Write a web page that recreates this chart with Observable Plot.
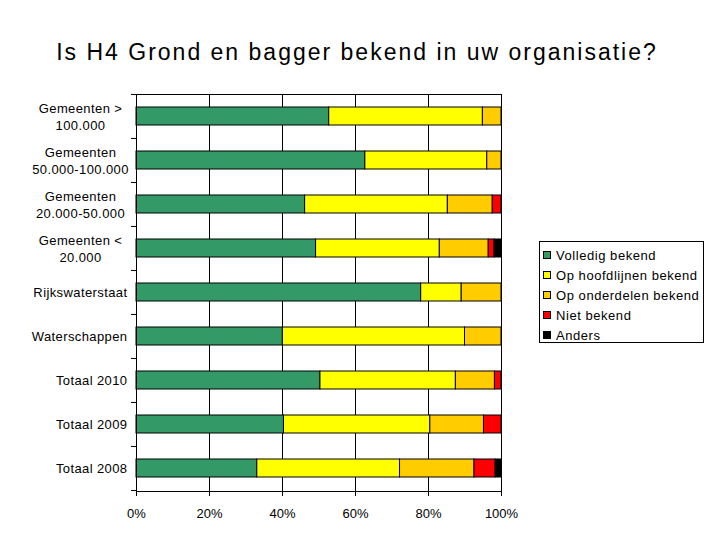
<!DOCTYPE html>
<html>
<head>
<meta charset="utf-8">
<script src="https://cdn.jsdelivr.net/npm/d3@7"></script>
<script src="https://cdn.jsdelivr.net/npm/@observablehq/plot@0.6"></script>
<style>
  body { margin: 0; background: white; }
  #chart { position: relative; width: 720px; height: 540px; font-family: 'Liberation Sans', Arial, sans-serif; color: black; }
  #title { height: 80px; box-sizing: border-box; padding-top: 41px; padding-right: 6px; text-align: center; font-size: 23px; line-height: 23px; letter-spacing: 2px; }
  #legend { position: absolute; left: 539px; top: 241px; width: 165px; height: 102px; box-sizing: border-box; border: 1px solid black; padding-top: 3px; background: white; }
  .item { height: 20px; display: flex; align-items: center; font-size: 13px; letter-spacing: 0.55px; white-space: nowrap; }
  .sw { width: 8px; height: 8px; box-sizing: border-box; border: 1px solid black; margin-left: 3px; margin-right: 5px; flex: none; }
  g[aria-label="y-axis tick label"] text { letter-spacing: 0.4px; }
</style>
</head>
<body>
<div id="chart">
  <div id="title">Is H4 Grond en bagger bekend in uw organisatie?</div>
  <div id="legend"></div>
</div>
<script>
const categories = ["Gemeenten >\n100.000", "Gemeenten\n50.000-100.000", "Gemeenten\n20.000-50.000", "Gemeenten <\n20.000", "Rijkswaterstaat", "Waterschappen", "Totaal 2010", "Totaal 2009", "Totaal 2008"];
const seriesNames = ["Volledig bekend", "Op hoofdlijnen bekend", "Op onderdelen bekend", "Niet bekend", "Anders"];
const seriesColors = ["#339966", "#FFFF00", "#FFCC00", "#FF0000", "#000000"];
const volledig    = [52.8, 62.7, 46.2, 49.2, 78.0, 40.1, 50.4, 40.4, 33.1];
const hoofdlijnen = [42.1, 33.4, 39.1, 33.9, 11.1, 49.9, 37.1, 40.1, 39.1];
const onderdelen  = [5.1, 3.9, 12.3, 13.4, 10.9, 10.0, 10.7, 14.7, 20.4];
const niet        = [0, 0, 2.4, 1.6, 0, 0, 1.8, 4.8, 5.8];
const anders      = [0, 0, 0, 1.9, 0, 0, 0, 0, 1.6];
const xTicks = [0, 20, 40, 60, 80, 100];
const gridTicks = [20, 40, 60, 80];

const valueArrays = [volledig, hoofdlijnen, onderdelen, niet, anders];
const data = [];
categories.forEach((c, i) => {
  seriesNames.forEach((s, j) => {
    const v = valueArrays[j][i];
    if (v > 0) data.push({category: c, series: s, value: v});
  });
});

const H = 460, MT = 14, MB = 49;
const step = (H - MT - MB) / categories.length;
const twoLine = categories.filter(c => c.includes("\n"));
const oneLine = categories.filter(c => !c.includes("\n"));

const plot = Plot.plot({
  width: 720,
  height: H,
  marginLeft: 136,
  marginRight: 219,
  marginTop: MT,
  marginBottom: MB,
  style: {fontFamily: "'Liberation Sans', Arial, sans-serif", fontSize: "13px", color: "black", background: "white"},
  x: {domain: [0, 100], label: null},
  y: {domain: categories, paddingInner: 0.59, paddingOuter: 0.295, label: null},
  color: {domain: seriesNames, range: seriesColors},
  marks: [
    Plot.ruleX(gridTicks, {stroke: "black", strokeWidth: 1}),
    Plot.barX(data, Plot.stackX({
      y: "category",
      x: "value",
      fill: "series",
      order: seriesNames,
      stroke: "black",
      strokeWidth: 1
    })),
    Plot.frame({stroke: "black", strokeWidth: 1}),
    Plot.axisX({ticks: xTicks, tickFormat: d => d + "%", tickSize: 5, tickPadding: 12, stroke: "black", fill: "black", label: null}),
    Plot.axisY({tickSize: 5, tickFormat: () => "", dy: -step / 2, stroke: "black", label: null}),
    Plot.axisY({ticks: [categories[categories.length - 1]], tickSize: 5, tickFormat: () => "", dy: step / 2, stroke: "black", label: null}),
    Plot.axisY({ticks: twoLine, tickSize: 0, tickPadding: 56, textAnchor: "middle", lineHeight: 1.3, fill: "black", label: null}),
    Plot.axisY({ticks: oneLine, tickSize: 0, tickPadding: 9, textAnchor: "end", fill: "black", label: null})
  ]
});
document.getElementById("chart").appendChild(plot);

const legend = document.getElementById("legend");
seriesNames.forEach((s, i) => {
  const item = document.createElement("div");
  item.className = "item";
  const sw = document.createElement("span");
  sw.className = "sw";
  sw.style.background = seriesColors[i];
  const t = document.createElement("span");
  t.textContent = s;
  item.appendChild(sw);
  item.appendChild(t);
  legend.appendChild(item);
});
</script>
</body>
</html>
